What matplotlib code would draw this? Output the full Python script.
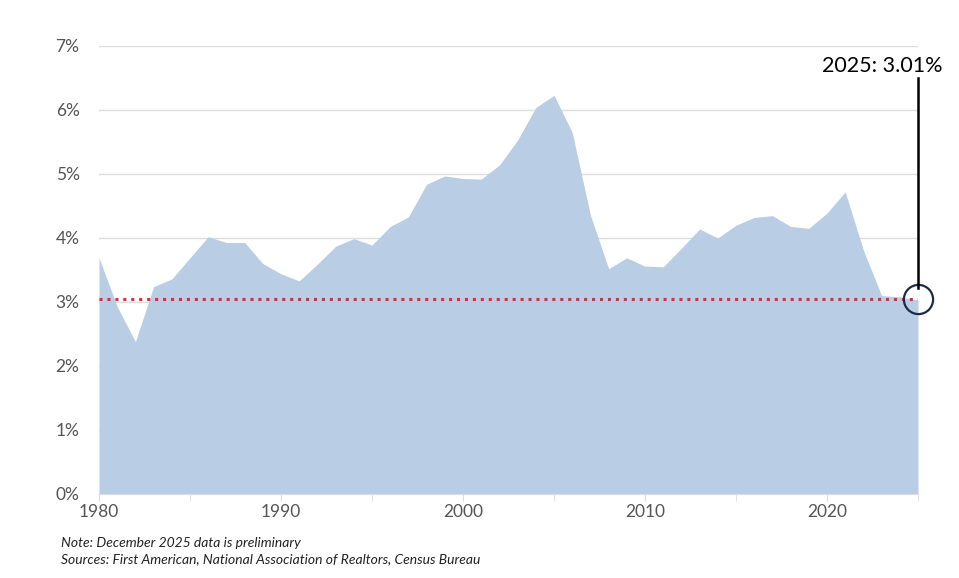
import matplotlib
matplotlib.use("Agg")
import matplotlib.pyplot as plt
from matplotlib.ticker import FuncFormatter, MultipleLocator

years = list(range(1980, 2026))
rate = [3.69, 2.93, 2.38, 3.24, 3.36, 3.69, 4.02, 3.93, 3.93, 3.60,
        3.44, 3.33, 3.59, 3.87, 3.99, 3.89, 4.18, 4.33, 4.84, 4.97,
        4.93, 4.92, 5.14, 5.53, 6.04, 6.23, 5.65, 4.36, 3.52, 3.69,
        3.56, 3.55, 3.84, 4.14, 4.00, 4.20, 4.32, 4.35, 4.18, 4.15,
        4.39, 4.72, 3.81, 3.10, 3.08, 3.03]
reference_level = 3.05
label_year = 2025
label_text = "2025: 3.01%"
y_ticks = [0, 1, 2, 3, 4, 5, 6, 7]
x_label_ticks = [1980, 1990, 2000, 2010, 2020]
note_lines = ["Note: December 2025 data is preliminary",
              "Sources: First American, National Association of Realtors, Census Bureau"]

plt.rcParams['font.family'] = ['Lato', 'DejaVu Sans']

fig = plt.figure(figsize=(9.59, 5.78), dpi=100)
ax = fig.add_axes([99/959, 1-494/578, (918-99)/959, (494-46)/578])

ax.fill_between(years, rate, 0, color="#b9cde4", lw=0, zorder=2)
ax.axhline(reference_level, color="#c8373a", lw=2.2, ls=(0, (1, 1.6)), zorder=3)

ax.set_xlim(1980, 2025)
ax.set_ylim(0, 7)
ax.set_yticks(y_ticks)
ax.yaxis.set_major_formatter(FuncFormatter(lambda v, p: f"{v:.0f}%"))
ax.set_xticks(x_label_ticks)
ax.xaxis.set_minor_locator(MultipleLocator(5))
ax.grid(axis='y', color="#dddddd", lw=1, zorder=0)
for s in ['top', 'right', 'left']:
    ax.spines[s].set_visible(False)
ax.spines['bottom'].set_color("#dddddd")
ax.spines['bottom'].set_zorder(4)
ax.tick_params(axis='y', length=0, pad=14, labelsize=12.5, labelcolor="#555555")
ax.tick_params(axis='x', which='both', length=5, color="#dddddd", pad=2,
               labelsize=12.5, labelcolor="#555555")
ax.tick_params(axis='x', which='minor', labelbottom=False)

# annotation
ax.plot([label_year], [reference_level], marker='o', ms=21, mfc='none',
        mec="#1b2b45", mew=1.6, zorder=6, clip_on=False)
ax.plot([label_year, label_year], [reference_level + 0.17, 6.5], color="black",
        lw=1.8, zorder=6, clip_on=False)
ax.text(label_year + 1.33, 6.69, label_text, ha='right', va='center', fontsize=15.5,
        color="black", zorder=7, clip_on=False)

fig.text(61/959, 1-543/578, note_lines[0], fontsize=10, style='italic',
         color="#222222", va='center')
fig.text(61/959, 1-559/578, note_lines[1], fontsize=10, style='italic',
         color="#222222", va='center')

fig.savefig("out.png", dpi=100)
